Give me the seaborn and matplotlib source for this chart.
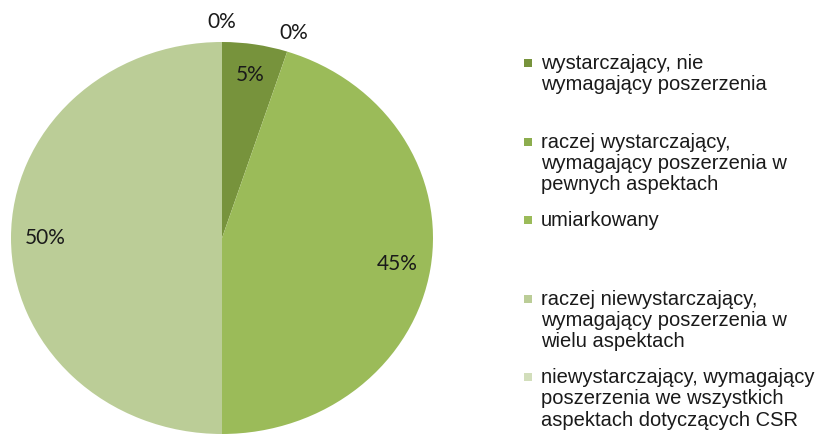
import matplotlib
matplotlib.use("Agg")
import matplotlib.pyplot as plt
import seaborn as sns
import numpy as np
from matplotlib.patches import Rectangle

categories = [
    "wystarczający, nie\nwymagający poszerzenia",
    "raczej wystarczający,\nwymagający poszerzenia w\npewnych aspektach",
    "umiarkowany",
    "raczej niewystarczający,\nwymagający poszerzenia w\nwielu aspektach",
    "niewystarczający, wymagający\nposzerzenia we wszystkich\naspektach dotyczących CSR",
]
values = [5, 0, 45, 50, 0]
colors = ["#77933C", "#8CAD4E", "#9BBB59", "#BBCD97", "#D2DEBB"]

sns.set_theme(style="white")
plt.rcParams["font.family"] = ["Liberation Sans", "DejaVu Sans"]

W, H = 824, 436
fig = plt.figure(figsize=(W / 100, H / 100), dpi=100)
fig.patch.set_facecolor("white")

ax = fig.add_axes([11 / W, 2 / H, 422 / W, 392 / H])
wedges, _ = ax.pie(values, colors=sns.color_palette(colors), startangle=90,
                   counterclock=False, radius=1, wedgeprops=dict(linewidth=0))
ax.set_xlim(-1, 1)
ax.set_ylim(-1, 1)
ax.set_aspect("auto")
ax.axis("off")

for w, v in zip(wedges, values):
    th = np.deg2rad((w.theta1 + w.theta2) / 2)
    r = 0.84 if v > 0 else 1.1
    ax.text(r * np.cos(th), r * np.sin(th), f"{v}%", ha="center", va="center",
            fontsize=15, family=["Lato", "DejaVu Sans"], color="#1a1a1a", clip_on=False)

def fx(px):
    return px / W

def fy(py):
    return 1 - py / H

for i, (lab, c) in enumerate(zip(categories, colors)):
    yc = 63 + 78.5 * i
    fig.patches.append(Rectangle((fx(524), fy(yc + 4)), 8 / W, 8 / H,
                                 transform=fig.transFigure, facecolor=c,
                                 edgecolor="none"))
    fig.text(fx(541), fy(yc - 9), lab, ha="left", va="top", fontsize=14.5,
             color="#1a1a1a", linespacing=1.15)

fig.savefig("out.png", dpi=100)
